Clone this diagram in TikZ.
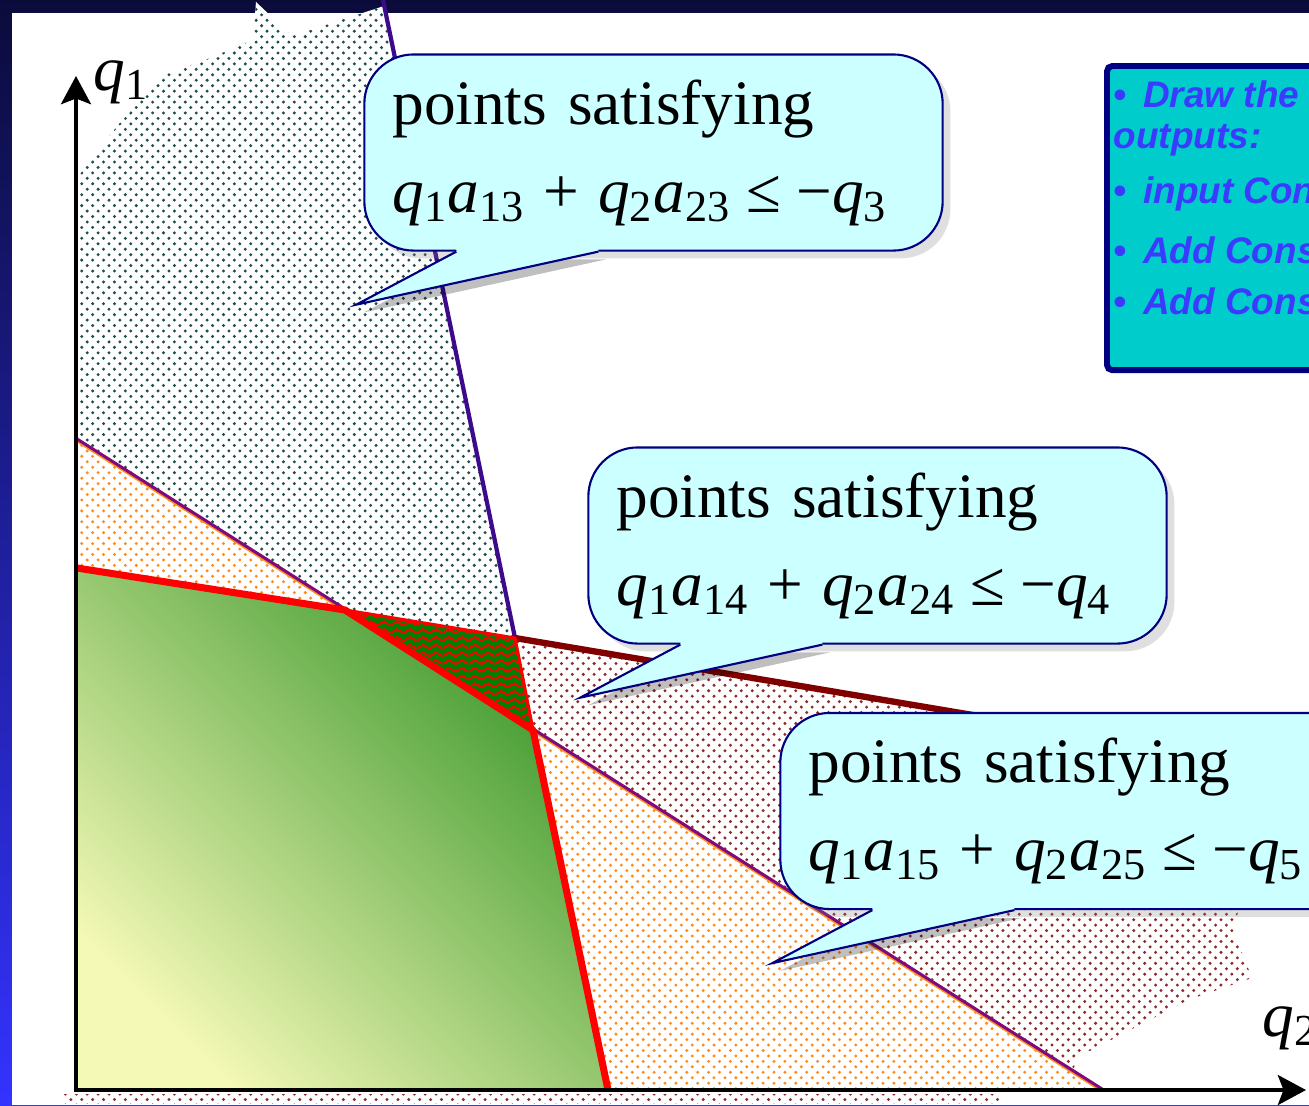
\documentclass[tikz,border=0pt]{standalone}
\usepackage{fontspec}
\setmainfont{Liberation Serif}
\setsansfont{Liberation Sans}
\usepackage{xcolor}
\usetikzlibrary{arrows.meta,calc,patterns,shadows}
\definecolor{frameTop}{HTML}{0B0B3B}
\definecolor{frameBot}{HTML}{3333FF}
\definecolor{balloonFill}{HTML}{CCFFFF}
\definecolor{balloonEdge}{HTML}{000080}
\definecolor{tealDot}{HTML}{1E4D4D}
\definecolor{wineDot}{HTML}{8B2A2A}
\definecolor{orangeDot}{HTML}{FF8C1A}
\definecolor{cutIndigo}{HTML}{3D0A8C}
\definecolor{cutPurple}{HTML}{7F0A7F}
\definecolor{cutWine}{HTML}{800000}
\definecolor{zigGreen}{HTML}{008000}
\definecolor{feasDark}{HTML}{3A972B}
\definecolor{feasMid}{HTML}{8DC463}
\definecolor{feasLight}{HTML}{F4F9B6}
\definecolor{noteFill}{HTML}{00CCCC}
\definecolor{noteText}{HTML}{3B3BFF}
\pgfdeclarepatternformonly{slidedots}{\pgfqpoint{-0.6pt}{-0.6pt}}{\pgfqpoint{2.5pt}{2.5pt}}{\pgfqpoint{3.1pt}{3.1pt}}{%
  \pgfpathcircle{\pgfqpoint{0pt}{0pt}}{0.47pt}%
  \pgfpathcircle{\pgfqpoint{1.55pt}{1.55pt}}{0.47pt}%
  \pgfusepath{fill}}
\pgfdeclarepatternformonly{zigrows}{\pgfqpoint{0pt}{-0.4pt}}{\pgfqpoint{3.7pt}{1.8pt}}{\pgfqpoint{3.7pt}{2.2pt}}{%
  \pgfsetlinewidth{0.55pt}%
  \pgfpathmoveto{\pgfqpoint{0pt}{0pt}}%
  \pgfpathlineto{\pgfqpoint{1.85pt}{1.1pt}}%
  \pgfpathlineto{\pgfqpoint{3.7pt}{0pt}}%
  \pgfusepath{stroke}}
\newcommand{\qsub}[2]{\textit{#1}\textsubscript{#2}}

\begin{document}
\begin{tikzpicture}[x=0.01cm,y=-0.01cm,
    balloon/.style={draw=balloonEdge,fill=balloonFill,line width=0.6pt,rounded corners=14pt,
      minimum width=5.78cm,minimum height=1.96cm,text width=5.22cm,inner xsep=0.28cm,align=left,
      font=\fontsize{18}{25}\selectfont,drop shadow={opacity=0.25,shadow xshift=2.2pt,shadow yshift=-2.2pt}},
    axislbl/.style={anchor=base west,inner sep=0pt,font=\fontsize{18}{20}\selectfont},
    notetext/.style={anchor=base west,inner sep=0pt,text=noteText,font=\sffamily\bfseries\itshape\fontsize{10.5}{12.6}\selectfont}]
  \useasboundingbox (0,0) rectangle (1309,1105);
  \shade[top color=frameTop,bottom color=frameBot] (0,0) rectangle (1309,1105);
  \fill[white] (12,13) rectangle (1309,1105);
  % corner points of the cuts
  \coordinate (O) at (76,1090);
  \coordinate (A) at (77,568);
  \coordinate (B) at (345,610);
  \coordinate (C) at (515,638);
  \coordinate (D) at (533,730);
  \coordinate (E) at (608,1090);
  \coordinate (F) at (77,440);
  \coordinate (G) at (1102,1090);
  \coordinate (T) at (383,0);
  \coordinate (W) at (1300,770);
  % shaded half-planes
  \fill[pattern=slidedots,pattern color=wineDot] (C) -- (W) -- (1240,905) -- (1233,930) -- (1252,978) -- (1188,1000) -- (1080,1056) -- (1072,1071) -- (D) -- cycle;
  \fill[pattern=slidedots,pattern color=wineDot] (62,1094) rectangle (1000,1103);
  \fill[pattern=slidedots,pattern color=orangeDot] (F) -- (G) -- (O) -- cycle;
  \fill[pattern=slidedots,pattern color=tealDot,preaction={fill=white}] (77,178) -- (118,125) -- (166,74) -- (205,60) -- (253,40) -- (256,2) -- (292,36) -- (384,6) -- (C) -- (B) -- (F) -- cycle;
  \fill[zigGreen] (B) -- (C) -- (D) -- cycle;
  \fill[pattern=zigrows,pattern color=red] (B) -- (C) -- (D) -- cycle;
  \shade[top color=feasDark,middle color=feasMid,bottom color=feasLight,shading angle=-45] (A) -- (B) -- (D) -- (E) -- (O) -- cycle;
  % cutting lines
  \draw[cutIndigo,line width=1.2pt] (T) -- (C);
  \draw[cutWine,line width=1.8pt] (C) -- (W);
  \draw[orangeDot,line width=1.2pt] (F) -- (B) (D) -- (G);
  \draw[cutPurple,line width=0.85pt,transform canvas={yshift=0.3pt}] (F) -- (B) (D) -- (G);
  \draw[red,line width=0.9pt,line join=round] (B) -- (C) -- (D);
  \draw[red,line width=2pt,line join=round] (A) -- (B) -- (D) -- (E);
  % axes
  \draw[line width=1.1pt,-{Stealth[length=8pt,width=8.5pt,inset=1.6pt]}] ([yshift=-0.5pt]O) -- (76,76);
  \draw[line width=1.1pt,-{Stealth[length=8pt,width=8.5pt,inset=1.6pt]}] ([xshift=-0.5pt]O) -- (1306,1090);
  \node[axislbl] (lblq1) at (93,90) {\qsub{q}{1}};
  \node[axislbl] (lblq2) at (1262,1036) {\qsub{q}{2}};
  % callouts
  \foreach \n/\cx/\cy/\k in {cA/653.5/152.5/3,cB/877.5/545.5/4,cC/1069.5/811/5}{
    \node[balloon] (\n) at (\cx,\cy) {points satisfying\\ \qsub{q}{1}\qsub{a}{1\k}\hspace{.29em}+\hspace{.29em}\qsub{q}{2}\qsub{a}{2\k}\hspace{.24em}≤\hspace{.24em}−\qsub{q}{\k}};
    \coordinate (\n-l) at ([xshift=0.93cm]\n.south west);
    \coordinate (\n-r) at ([xshift=2.35cm]\n.south west);
    \coordinate (\n-t) at ([shift={(-0.07cm,-0.53cm)}]\n.south west);
    \fill[black,opacity=0.25] ([shift={(2.2pt,-2.2pt)}]\n-l) -- ([shift={(2.2pt,-2.2pt)}]\n-t) -- ([shift={(2.2pt,-2.2pt)}]\n-r) -- cycle;
    \fill[balloonFill] ([yshift=1.5pt]\n-l) -- (\n-l) -- (\n-t) -- (\n-r) -- ([yshift=1.5pt]\n-r) -- cycle;
    \draw[balloonEdge,line width=0.6pt] (\n-l) -- (\n-t) -- (\n-r);
  }
  % notes box
  \node[draw=balloonEdge,fill=noteFill,line width=1.7pt,rounded corners=1.5pt,anchor=north west,
    minimum width=2.4cm,minimum height=3.04cm,inner sep=0pt] (notes) at (1104,63) {};
  \foreach \y/\txt [count=\i] in {107/{•\hspace{.45em}Draw the},148/{outputs:},203/{•\hspace{.45em}input Con},263/{•\hspace{.45em}Add Cons},314/{•\hspace{.45em}Add Cons}}
    \node[notetext] (note\i) at (1113,\y) {\txt};
\end{tikzpicture}
\end{document}
